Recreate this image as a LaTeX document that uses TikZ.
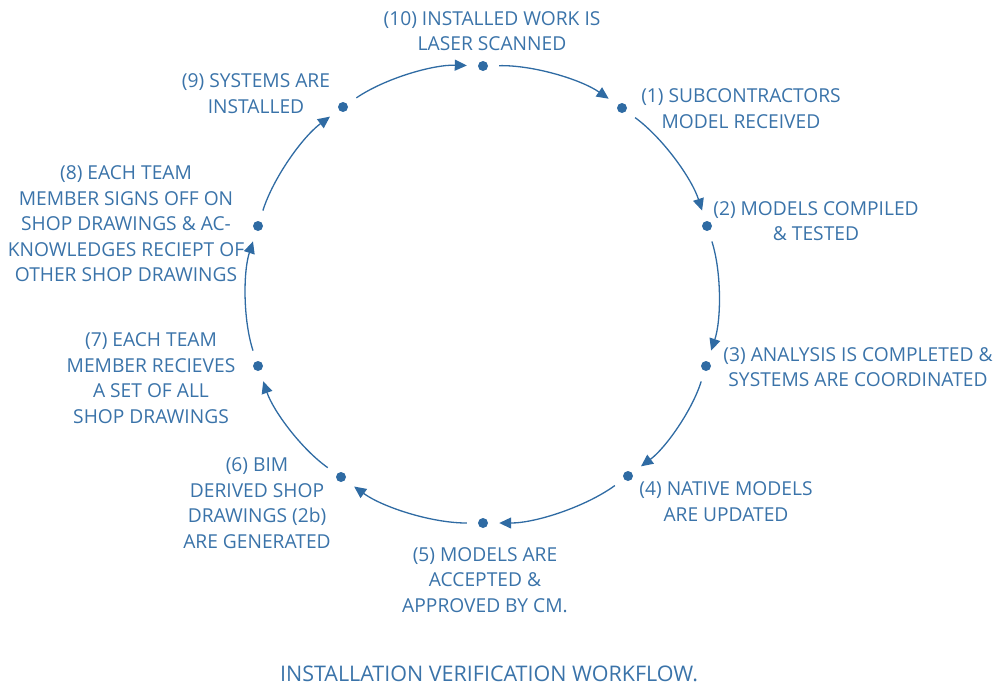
\documentclass[tikz,border=0pt]{standalone}
\usepackage{fontspec}
\setmainfont{Open Sans}
\usetikzlibrary{arrows.meta, positioning}
\definecolor{wfblue}{HTML}{3A73A9}
\definecolor{dotblue}{HTML}{2F6BA3}
\tikzset{
  stage/.style={circle, fill=dotblue, inner sep=0pt, minimum size=10pt},
  lab/.style={align=center, text=wfblue, font=\fontsize{19.2}{25.5}\selectfont, inner sep=0pt},
  arr/.style={-{Triangle[length=12pt, width=11pt]}, line width=1.3pt, draw=dotblue, shorten <=11pt, shorten >=11pt},
}

\begin{document}
\begin{tikzpicture}[x=1pt, y=-1pt]
  \useasboundingbox (0,0) rectangle (998,685);
  % stages round the cycle
  \node[stage] (d10) at (483,66) {};
  \node[stage] (d1) at (622,108) {};
  \node[stage] (d2) at (707,226) {};
  \node[stage] (d3) at (706,366) {};
  \node[stage] (d4) at (628,476) {};
  \node[stage] (d5) at (483,523) {};
  \node[stage] (d6) at (341,477) {};
  \node[stage] (d7) at (258,366) {};
  \node[stage] (d8) at (258,226) {};
  \node[stage] (d9) at (343,107) {};
  % labels
  \node[lab] (l10) at (492,31) {(10) INSTALLED WORK IS\\LASER SCANNED};
  \node[lab] (l1) at (741,108.5) {(1) SUBCONTRACTORS\\MODEL RECEIVED};
  \node[lab] (l2) at (816,221) {(2) MODELS COMPILED\\\& TESTED};
  \node[lab] (l3) at (858,367) {(3) ANALYSIS IS COMPLETED \&\\SYSTEMS ARE COORDINATED};
  \node[lab] (l4) at (726,501.5) {(4) NATIVE MODELS\\ARE UPDATED};
  \node[lab] (l5) at (485,580) {(5) MODELS ARE\\ACCEPTED \&\\APPROVED BY CM.};
  \node[lab] (l6) at (257,503) {(6) BIM\\DERIVED SHOP\\DRAWINGS (2b)\\ARE GENERATED};
  \node[lab] (l7) at (151,378) {(7) EACH TEAM\\MEMBER RECIEVES\\A SET OF ALL\\SHOP DRAWINGS};
  \node[lab] (l8) at (126,224) {(8) EACH TEAM\\MEMBER SIGNS OFF ON\\SHOP DRAWINGS \& AC-\\KNOWLEDGES RECIEPT OF\\OTHER SHOP DRAWINGS};
  \node[lab] (l9) at (256,93.5) {(9) SYSTEMS ARE\\INSTALLED};
  \node[lab, font=\fontsize{21.5}{24}\selectfont] (title) at (489,674) {INSTALLATION VERIFICATION WORKFLOW.};
  % arcs
  \foreach \a/\b in {10/1, 1/2, 2/3, 3/4, 4/5, 5/6, 6/7, 7/8, 8/9, 9/10}
    \draw[arr] (d\a) to[bend left=18, looseness=0.85] (d\b);
\end{tikzpicture}
\end{document}
